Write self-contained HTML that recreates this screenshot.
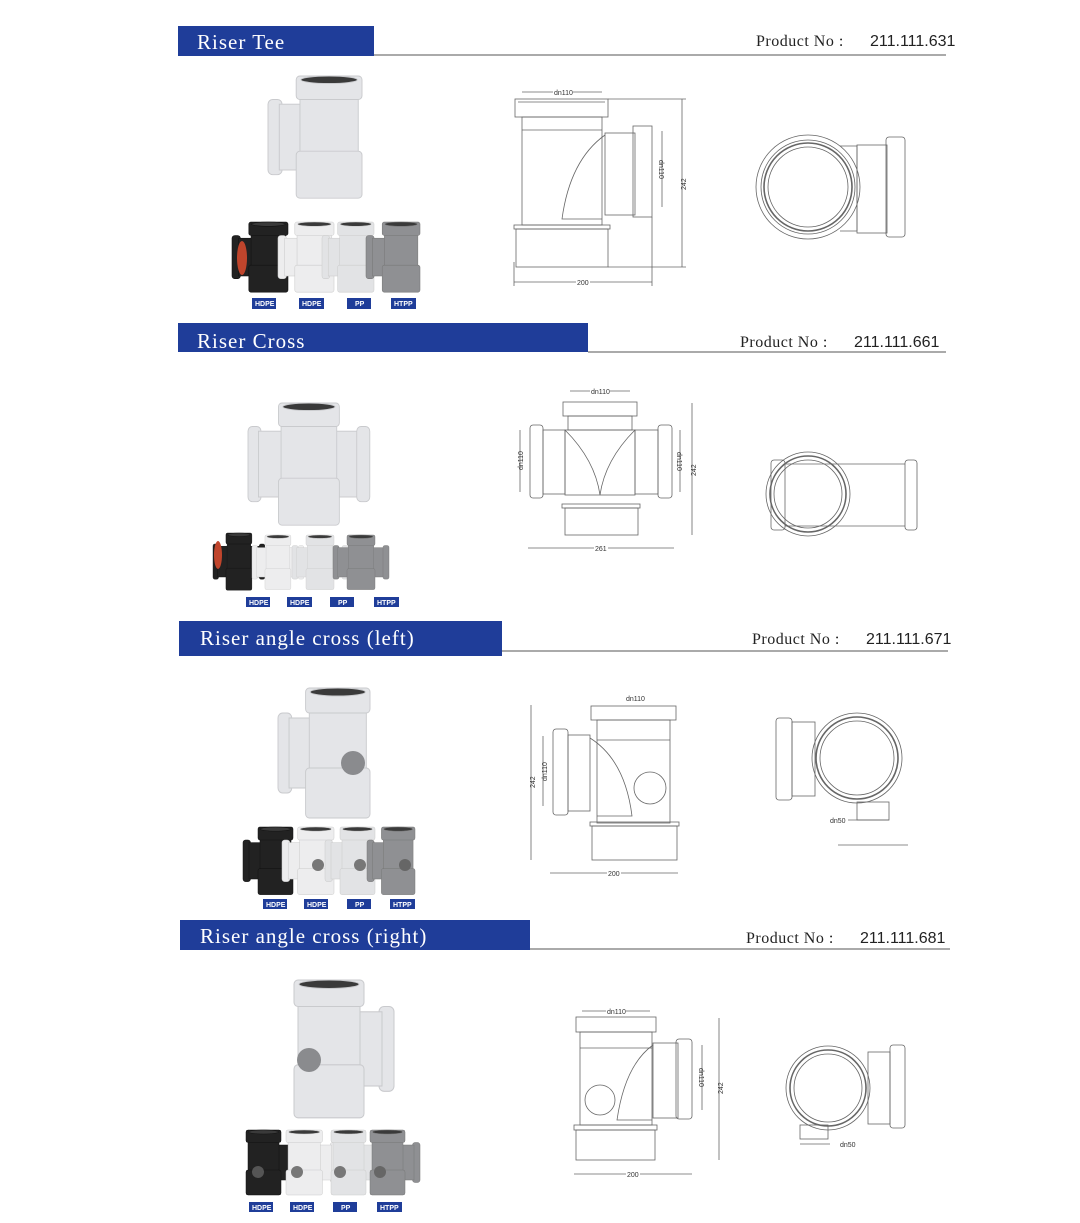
<!DOCTYPE html>
<html><head><meta charset="utf-8"><style>
html,body{margin:0;padding:0;background:#fff;}
svg{display:block;}
.h{font-family:"Liberation Serif",serif;font-size:21px;fill:#fff;letter-spacing:1px;}
.pn{font-family:"Liberation Serif",serif;font-size:16px;fill:#222;letter-spacing:0.5px;}
.pv{font-family:"Liberation Sans",sans-serif;font-size:16px;fill:#222;}
.b{font-family:"Liberation Sans",sans-serif;font-size:7px;font-weight:bold;fill:#fff;}
.d{fill:none;stroke:#666;stroke-width:0.8;}
.dt{font-family:"Liberation Sans",sans-serif;font-size:7px;fill:#333;}
</style></head><body>
<svg width="1080" height="1223" viewBox="0 0 1080 1223" xmlns="http://www.w3.org/2000/svg">
<defs>
<symbol id="tee" overflow="visible">
<rect x="0" y="25" width="15" height="80" rx="5"/>
<rect x="12" y="30" width="26" height="70"/>
<rect x="34" y="22" width="62" height="62"/>
<rect x="30" y="80" width="70" height="50" rx="4"/>
<rect x="30" y="0" width="70" height="25" rx="4"/>
<ellipse cx="65" cy="4" rx="30" ry="4" fill="#3a3a3a"/>
</symbol>
<symbol id="cross" overflow="visible">
<rect x="0" y="25" width="15" height="80" rx="5"/>
<rect x="12" y="30" width="116" height="70"/>
<rect x="125" y="25" width="15" height="80" rx="5"/>
<rect x="38" y="22" width="64" height="62"/>
<rect x="35" y="80" width="70" height="50" rx="4"/>
<rect x="35" y="0" width="70" height="25" rx="4"/>
<ellipse cx="70" cy="4" rx="30" ry="4" fill="#3a3a3a"/>
</symbol>
</defs>

<!-- Headers -->
<rect x="178" y="26" width="196" height="30" fill="#1f3d99"/>
<line x1="374" y1="55" x2="946" y2="55" stroke="#555" stroke-width="1"/>
<text x="197" y="49" class="h">Riser  Tee</text>
<text x="756" y="46" class="pn">Product  No  :</text><text x="870" y="46" class="pv">211.111.631</text>

<rect x="178" y="323" width="410" height="29" fill="#1f3d99"/>
<line x1="588" y1="352" x2="946" y2="352" stroke="#555" stroke-width="1"/>
<text x="197" y="348" class="h">Riser  Cross</text>
<text x="740" y="347" class="pn">Product  No  :</text><text x="854" y="347" class="pv">211.111.661</text>

<rect x="179" y="621" width="323" height="35" fill="#1f3d99"/>
<line x1="502" y1="651" x2="948" y2="651" stroke="#555" stroke-width="1"/>
<text x="200" y="645" class="h">Riser  angle  cross  (left)</text>
<text x="752" y="644" class="pn">Product  No  :</text><text x="866" y="644" class="pv">211.111.671</text>

<rect x="180" y="920" width="350" height="30" fill="#1f3d99"/>
<line x1="530" y1="949" x2="950" y2="949" stroke="#555" stroke-width="1"/>
<text x="200" y="943" class="h">Riser  angle  cross  (right)</text>
<text x="746" y="943" class="pn">Product  No  :</text><text x="860" y="943" class="pv">211.111.681</text>

<!-- Section 1 photos -->
<use href="#tee" transform="translate(268,76) scale(0.94)" fill="#e4e5e8" stroke="#c9cacd" stroke-width="1"/>
<use href="#tee" transform="translate(232,222) scale(0.56,0.54)" fill="#222" stroke="#111"/>
<use href="#tee" transform="translate(278,222) scale(0.56,0.54)" fill="#ededee" stroke="#ccc"/>
<use href="#tee" transform="translate(322,222) scale(0.52,0.54)" fill="#e2e3e5" stroke="#ccc"/>
<use href="#tee" transform="translate(366,222) scale(0.54,0.54)" fill="#8f9093" stroke="#777"/>
<ellipse cx="242" cy="258" rx="5" ry="17" fill="#c0452c"/>
<rect x="252" y="298" width="24" height="11" fill="#1f3d99"/><text x="255" y="306" class="b">HDPE</text>
<rect x="299" y="298" width="25" height="11" fill="#1f3d99"/><text x="302" y="306" class="b">HDPE</text>
<rect x="347" y="298" width="24" height="11" fill="#1f3d99"/><text x="355" y="306" class="b">PP</text>
<rect x="391" y="298" width="25" height="11" fill="#1f3d99"/><text x="394" y="306" class="b">HTPP</text>

<!-- Section 1 drawing -->
<g class="d">
<rect x="515" y="99" width="93" height="18"/><line x1="518" y1="102" x2="605" y2="102"/>
<rect x="522" y="117" width="80" height="108"/><line x1="522" y1="130" x2="602" y2="130"/>
<path d="M605 135 Q570 160 562 219 L602 219"/>
<rect x="605" y="133" width="30" height="82"/>
<rect x="633" y="126" width="19" height="91"/>
<rect x="514" y="225" width="96" height="4"/><rect x="516" y="229" width="92" height="38"/>
<line x1="522" y1="92" x2="602" y2="92"/><line x1="682" y1="99" x2="682" y2="267"/>
<line x1="608" y1="99" x2="686" y2="99"/><line x1="608" y1="267" x2="686" y2="267"/>
<line x1="514" y1="282" x2="652" y2="282"/><line x1="514" y1="262" x2="514" y2="286"/><line x1="652" y1="217" x2="652" y2="286"/>
<line x1="662" y1="131" x2="662" y2="207"/>
<circle cx="808" cy="187" r="52"/><circle cx="808" cy="187" r="47"/><circle cx="808" cy="187" r="44" stroke-width="1.6"/><circle cx="808" cy="187" r="40"/>
<path d="M840 146 L857 146 L857 231 L840 231"/><rect x="857" y="145" width="30" height="88"/><rect x="886" y="137" width="19" height="100" rx="3"/>
</g>
<rect x="553" y="89" width="20" height="7" fill="#fff"/><text x="554" y="95" class="dt">dn110</text>
<rect x="576" y="279" width="14" height="7" fill="#fff"/><text x="577" y="285" class="dt">200</text>
<text transform="translate(686,190) rotate(-90)" class="dt">242</text>
<text transform="translate(659,160) rotate(90)" class="dt">dn110</text>

<!-- Section 2 photos -->
<use href="#cross" transform="translate(248,403) scale(0.87,0.94)" fill="#e4e5e8" stroke="#c9cacd"/>
<use href="#cross" transform="translate(213,533) scale(0.37,0.44)" fill="#222" stroke="#111"/>
<use href="#cross" transform="translate(252,535) scale(0.37,0.42)" fill="#ededee" stroke="#ccc"/>
<use href="#cross" transform="translate(292,535) scale(0.4,0.42)" fill="#e2e3e5" stroke="#ccc"/>
<use href="#cross" transform="translate(333,535) scale(0.4,0.42)" fill="#8f9093" stroke="#777"/>
<ellipse cx="218" cy="555" rx="4" ry="14" fill="#c0452c"/>
<rect x="246" y="597" width="24" height="10" fill="#1f3d99"/><text x="249" y="605" class="b">HDPE</text>
<rect x="287" y="597" width="25" height="10" fill="#1f3d99"/><text x="290" y="605" class="b">HDPE</text>
<rect x="330" y="597" width="24" height="10" fill="#1f3d99"/><text x="338" y="605" class="b">PP</text>
<rect x="374" y="597" width="25" height="10" fill="#1f3d99"/><text x="377" y="605" class="b">HTPP</text>

<!-- Section 2 drawing -->
<g class="d">
<rect x="563" y="402" width="74" height="14"/><rect x="568" y="416" width="64" height="14"/>
<rect x="530" y="425" width="13" height="73" rx="3"/><rect x="543" y="430" width="22" height="64"/>
<rect x="565" y="430" width="70" height="65"/><path d="M565 430 Q595 460 600 495 Q605 460 635 430"/>
<rect x="635" y="430" width="23" height="64"/><rect x="658" y="425" width="14" height="73" rx="3"/>
<rect x="562" y="504" width="78" height="4"/><rect x="565" y="508" width="73" height="27"/>
<line x1="570" y1="391" x2="630" y2="391"/><line x1="692" y1="403" x2="692" y2="535"/>
<line x1="528" y1="548" x2="674" y2="548"/><line x1="520" y1="430" x2="520" y2="492"/><line x1="680" y1="430" x2="680" y2="492"/>
<circle cx="808" cy="494" r="42"/><circle cx="808" cy="494" r="38" stroke-width="1.6"/><circle cx="808" cy="494" r="34"/>
<rect x="771" y="460" width="14" height="70" rx="3"/><line x1="785" y1="464" x2="905" y2="464"/><line x1="785" y1="526" x2="905" y2="526"/>
<rect x="905" y="460" width="12" height="70" rx="3"/>
</g>
<rect x="590" y="388" width="20" height="7" fill="#fff"/><text x="591" y="394" class="dt">dn110</text>
<rect x="594" y="545" width="14" height="7" fill="#fff"/><text x="595" y="551" class="dt">261</text>
<text transform="translate(696,476) rotate(-90)" class="dt">242</text>
<text transform="translate(523,470) rotate(-90)" class="dt">dn110</text>
<text transform="translate(677,452) rotate(90)" class="dt">dn110</text>

<!-- Section 3 photos -->
<use href="#tee" transform="translate(278,688) scale(0.92,1.0)" fill="#e4e5e8" stroke="#c9cacd"/>
<circle cx="353" cy="763" r="12" fill="#8a8b8e"/>
<use href="#tee" transform="translate(243,827) scale(0.5,0.52)" fill="#222" stroke="#111"/>
<use href="#tee" transform="translate(282,827) scale(0.52,0.52)" fill="#ededee" stroke="#ccc"/>
<use href="#tee" transform="translate(325,827) scale(0.5,0.52)" fill="#e2e3e5" stroke="#ccc"/>
<use href="#tee" transform="translate(367,827) scale(0.48,0.52)" fill="#8f9093" stroke="#777"/>
<circle cx="318" cy="865" r="6" fill="#777"/><circle cx="360" cy="865" r="6" fill="#777"/><circle cx="405" cy="865" r="6" fill="#666"/>
<rect x="263" y="899" width="24" height="10" fill="#1f3d99"/><text x="266" y="907" class="b">HDPE</text>
<rect x="304" y="899" width="24" height="10" fill="#1f3d99"/><text x="307" y="907" class="b">HDPE</text>
<rect x="347" y="899" width="24" height="10" fill="#1f3d99"/><text x="355" y="907" class="b">PP</text>
<rect x="390" y="899" width="25" height="10" fill="#1f3d99"/><text x="393" y="907" class="b">HTPP</text>

<!-- Section 3 drawing -->
<g class="d">
<rect x="591" y="706" width="85" height="14"/><rect x="597" y="720" width="73" height="103"/><line x1="597" y1="740" x2="670" y2="740"/>
<rect x="553" y="729" width="15" height="86" rx="3"/><rect x="568" y="735" width="22" height="76"/>
<path d="M590 738 Q625 760 632 816 L597 816"/>
<circle cx="650" cy="788" r="16"/>
<rect x="590" y="822" width="89" height="4"/><rect x="592" y="826" width="85" height="34"/>
<line x1="531" y1="705" x2="531" y2="860"/><line x1="550" y1="873" x2="678" y2="873"/><line x1="543" y1="736" x2="543" y2="806"/>
<circle cx="857" cy="758" r="45"/><circle cx="857" cy="758" r="41" stroke-width="1.6"/><circle cx="857" cy="758" r="37"/>
<rect x="776" y="718" width="16" height="82" rx="3"/><rect x="792" y="722" width="23" height="74"/>
<rect x="857" y="802" width="32" height="18"/><line x1="848" y1="820" x2="889" y2="820"/><line x1="838" y1="845" x2="908" y2="845"/>
</g>
<text x="626" y="701" class="dt">dn110</text>
<rect x="607" y="870" width="14" height="7" fill="#fff"/><text x="608" y="876" class="dt">200</text>
<text transform="translate(535,788) rotate(-90)" class="dt">242</text>
<text transform="translate(547,781) rotate(-90)" class="dt">dn110</text>
<text x="830" y="823" class="dt">dn50</text>

<!-- Section 4 photos -->
<use href="#tee" transform="translate(394,980) scale(-1,1.06)" fill="#e4e5e8" stroke="#c9cacd"/>
<circle cx="309" cy="1060" r="12" fill="#8a8b8e"/>
<use href="#tee" transform="translate(296,1130) scale(-0.5,0.5)" fill="#222" stroke="#111"/>
<use href="#tee" transform="translate(338,1130) scale(-0.52,0.5)" fill="#ededee" stroke="#ccc"/>
<use href="#tee" transform="translate(381,1130) scale(-0.5,0.5)" fill="#e2e3e5" stroke="#ccc"/>
<use href="#tee" transform="translate(420,1130) scale(-0.5,0.5)" fill="#8f9093" stroke="#777"/>
<circle cx="258" cy="1172" r="6" fill="#555"/><circle cx="297" cy="1172" r="6" fill="#777"/><circle cx="340" cy="1172" r="6" fill="#777"/><circle cx="380" cy="1172" r="6" fill="#666"/>
<rect x="249" y="1202" width="24" height="10" fill="#1f3d99"/><text x="252" y="1210" class="b">HDPE</text>
<rect x="290" y="1202" width="24" height="10" fill="#1f3d99"/><text x="293" y="1210" class="b">HDPE</text>
<rect x="333" y="1202" width="24" height="10" fill="#1f3d99"/><text x="341" y="1210" class="b">PP</text>
<rect x="377" y="1202" width="25" height="10" fill="#1f3d99"/><text x="380" y="1210" class="b">HTPP</text>

<!-- Section 4 drawing -->
<g class="d">
<rect x="576" y="1017" width="80" height="15"/><rect x="580" y="1032" width="72" height="93"/><line x1="580" y1="1048" x2="652" y2="1048"/>
<path d="M653 1045 Q625 1065 617 1120 L652 1120"/>
<circle cx="600" cy="1100" r="15"/>
<rect x="653" y="1043" width="25" height="75"/><rect x="676" y="1039" width="16" height="80" rx="3"/>
<rect x="574" y="1125" width="83" height="5"/><rect x="576" y="1130" width="79" height="30"/>
<line x1="582" y1="1011" x2="650" y2="1011"/><line x1="719" y1="1018" x2="719" y2="1160"/><line x1="574" y1="1174" x2="692" y2="1174"/><line x1="702" y1="1045" x2="702" y2="1110"/>
<circle cx="828" cy="1088" r="42"/><circle cx="828" cy="1088" r="38" stroke-width="1.6"/><circle cx="828" cy="1088" r="34"/>
<rect x="868" y="1052" width="22" height="72"/><rect x="890" y="1045" width="15" height="83" rx="3"/>
<rect x="800" y="1125" width="28" height="14"/><line x1="800" y1="1144" x2="830" y2="1144"/>
</g>
<rect x="606" y="1008" width="20" height="7" fill="#fff"/><text x="607" y="1014" class="dt">dn110</text>
<rect x="626" y="1171" width="14" height="7" fill="#fff"/><text x="627" y="1177" class="dt">200</text>
<text transform="translate(723,1094) rotate(-90)" class="dt">242</text>
<text transform="translate(699,1068) rotate(90)" class="dt">dn110</text>
<text x="840" y="1147" class="dt">dn50</text>
</svg>
</body></html>
